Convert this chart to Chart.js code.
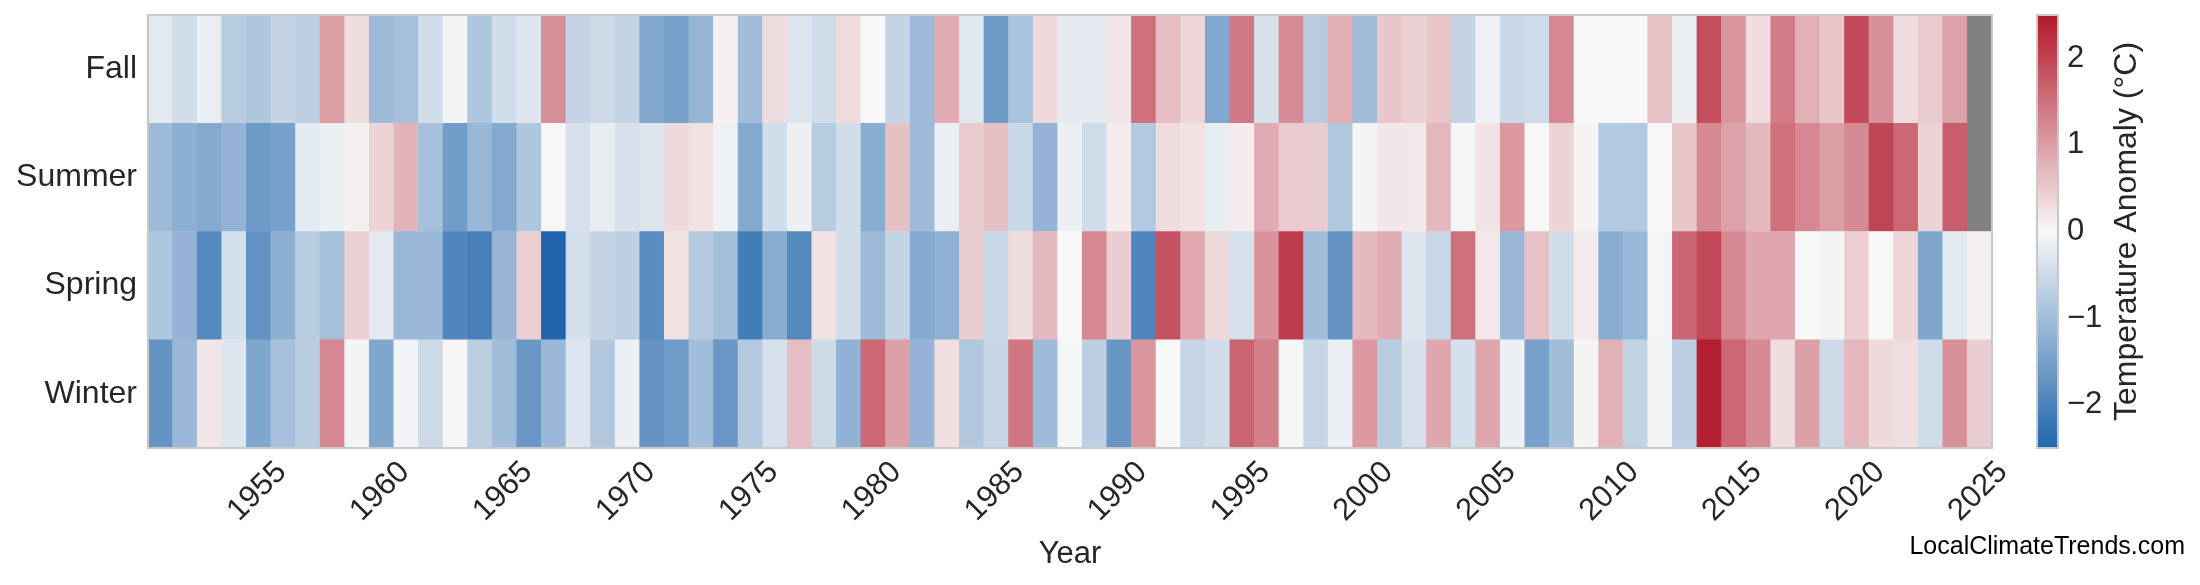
<!DOCTYPE html>
<html>
<head>
<meta charset="utf-8">
<script src="https://cdn.jsdelivr.net/npm/chart.js@4.4.1/dist/chart.umd.min.js"></script>
<style>
  html, body { margin: 0; padding: 0; background: #fff; }
  #wrap { position: relative; width: 2200px; height: 585px; }
</style>
</head>
<body>
<div id="wrap"><canvas id="heatmap" width="2200" height="585"></canvas></div>
<script>
// seasonal temperature anomalies (°C), one value per year, null = no data yet
const years = [1951, 1952, 1953, 1954, 1955, 1956, 1957, 1958, 1959, 1960,
  1961, 1962, 1963, 1964, 1965, 1966, 1967, 1968, 1969, 1970,
  1971, 1972, 1973, 1974, 1975, 1976, 1977, 1978, 1979, 1980,
  1981, 1982, 1983, 1984, 1985, 1986, 1987, 1988, 1989, 1990,
  1991, 1992, 1993, 1994, 1995, 1996, 1997, 1998, 1999, 2000,
  2001, 2002, 2003, 2004, 2005, 2006, 2007, 2008, 2009, 2010,
  2011, 2012, 2013, 2014, 2015, 2016, 2017, 2018, 2019, 2020,
  2021, 2022, 2023, 2024, 2025];

const fall = [-0.25, -0.45, -0.15, -0.75, -0.85, -0.6, -0.7, 1.0, 0.3, -1.05,
  -0.95, -0.45, -0.05, -0.85, -0.45, -0.3, 1.15, -0.6, -0.5, -0.6,
  -1.38, -1.5, -1.12, 0.08, -1.0, 0.3, -0.32, -0.47, 0.3, 0.0,
  -0.6, -1.05, 0.85, -0.28, -1.6, -0.9, 0.32, -0.22, -0.2, 0.2,
  1.5, 0.65, 0.38, -1.38, 1.42, -0.4, 1.2, -0.75, 0.82, -1.0,
  0.55, 0.45, 0.55, -0.6, -0.1, -0.52, -0.48, 1.25, 0.0, 0.0,
  0.0, 0.6, -0.12, 1.9, 1.1, 0.3, 1.38, 0.78, 0.55, 1.95,
  1.15, 0.3, 0.5, 0.95, null];

const summer = [-1.05, -1.25, -1.35, -1.15, -1.6, -1.5, -0.25, -0.12, 0.08, 0.4,
  0.75, -0.95, -1.55, -1.1, -1.35, -0.85, 0.0, -0.4, -0.17, -0.38,
  -0.3, 0.33, 0.25, -0.1, -1.35, -0.45, -0.12, -0.75, -0.45, -1.28,
  0.62, -1.05, -0.15, 0.5, 0.62, -0.52, -1.15, -0.12, -0.48, 0.12,
  -0.8, 0.3, 0.23, -0.17, 0.12, 0.85, 0.5, 0.5, -0.82, -0.05,
  0.18, 0.17, 0.72, -0.02, 0.22, 1.05, 0.0, 0.4, 0.05, -0.78,
  -0.8, 0.0, 0.55, 1.22, 0.95, 0.7, 1.5, 1.25, 1.0, 1.22,
  2.0, 1.6, 0.42, 1.72, null];

const spring = [-0.85, -1.15, -1.9, -0.42, -1.75, -1.25, -0.75, -0.95, 0.45, -0.25,
  -1.1, -1.1, -1.95, -2.05, -1.12, 0.45, -2.5, -0.43, -0.6, -0.68,
  -1.85, 0.25, -0.77, -0.97, -2.1, -1.28, -1.9, 0.25, -0.45, -1.05,
  -0.62, -1.32, -1.2, 0.47, -0.55, 0.3, 0.7, 0.0, 1.25, 0.47,
  -1.95, 1.85, 0.88, 0.35, -0.4, 1.12, 2.1, -1.0, -1.7, 0.68,
  0.85, -0.3, -0.55, 1.5, 0.17, -1.1, 0.6, -0.45, 0.15, -1.28,
  -1.1, -0.03, 1.62, 1.95, 1.22, 0.9, 0.9, 0.0, -0.06, 0.45,
  0.0, 0.38, -1.4, -0.23, 0.08];

const winter = [-1.7, -1.1, 0.2, -0.3, -1.4, -0.95, -0.75, 1.25, -0.05, -1.4,
  -0.08, -0.5, 0.03, -0.7, -1.0, -1.65, -1.1, -0.32, -0.82, -0.13,
  -1.7, -1.58, -1.0, -1.65, -0.8, -0.4, 0.65, -0.5, -1.2, 1.6,
  0.98, -1.15, 0.27, -0.82, -0.57, 1.45, -1.05, -0.03, -0.68, -1.68,
  1.1, 0.0, -0.57, -0.47, 1.65, 1.35, -0.02, -0.57, -0.13, 1.05,
  -0.75, -0.4, 0.9, -0.42, 0.9, -0.12, -1.5, -1.0, 0.05, 0.78,
  -0.62, -0.07, -0.68, 2.42, 1.6, 1.22, 0.3, 0.98, -0.5, 0.72,
  0.33, 0.28, -0.47, 1.15, 0.47];

// top to bottom, as shown on the y axis
const seasons = ['Fall', 'Summer', 'Spring', 'Winter'];
const colorbarTicks = [-2, -1, 0, 1, 2];
const vmin = -2.5;
const vmax = 2.5;

const textColor = '#262626';
const fontFamily = '"Liberation Sans", Arial, sans-serif';
const blue = [33, 102, 172];
const mid = [247, 247, 247];
const red = [178, 24, 43];

function anomalyColor(v) {
    if (v === null) return '#808080';
    let t = (Math.max(vmin, Math.min(vmax, v)) - vmin) / (vmax - vmin);
    let a, b, f;
    if (t < 0.5) { a = blue; b = mid; f = t / 0.5; }
    else { a = mid; b = red; f = (t - 0.5) / 0.5; }
    const c = a.map((x, i) => Math.round(x + (b[i] - x) * f));
    return 'rgb(' + c.join(',') + ')';
}

// stacked from the bottom up, every cell is one unit tall
const rows = [
    { name: 'Winter', values: winter },
    { name: 'Spring', values: spring },
    { name: 'Summer', values: summer },
    { name: 'Fall', values: fall }
];

const datasets = rows.map(r => ({
    label: r.name,
    data: r.values.map(() => 1),
    backgroundColor: r.values.map(anomalyColor),
    borderWidth: 0,
    barPercentage: 1,
    categoryPercentage: 1,
    stack: 'seasons'
}));

// keep the axes from pushing the plot area around
function noPadding(scale) {
    scale.paddingTop = 0;
    scale.paddingBottom = 0;
    scale.paddingLeft = 0;
    scale.paddingRight = 0;
}

// frame, colorbar, its label and the credit line
const extras = {
    id: 'extras',
    afterDraw(chart) {
        const ctx = chart.ctx;
        const area = chart.chartArea;
        const cb = chart.scales.cbar;
        ctx.save();
        ctx.strokeStyle = '#c8c8c8';
        ctx.lineWidth = 2;
        ctx.strokeRect(area.left, area.top, area.right - area.left, area.bottom - area.top);

        const x0 = area.right + 45;
        const w = 21;
        const yTop = cb.getPixelForValue(vmax);
        const yBot = cb.getPixelForValue(vmin);
        const grad = ctx.createLinearGradient(0, yBot, 0, yTop);
        grad.addColorStop(0, anomalyColor(vmin));
        grad.addColorStop(0.5, anomalyColor(0));
        grad.addColorStop(1, anomalyColor(vmax));
        ctx.fillStyle = grad;
        ctx.fillRect(x0, yTop, w, yBot - yTop);
        ctx.strokeRect(x0, yTop, w, yBot - yTop);

        ctx.fillStyle = textColor;
        ctx.font = '32px ' + fontFamily;
        ctx.textAlign = 'center';
        ctx.textBaseline = 'middle';
        ctx.translate(2127, (yTop + yBot) / 2);
        ctx.rotate(-Math.PI / 2);
        ctx.fillText('Temperature Anomaly (°C)', 0, 0);
        ctx.restore();

        ctx.save();
        ctx.fillStyle = '#000';
        ctx.font = '25px ' + fontFamily;
        ctx.textAlign = 'right';
        ctx.textBaseline = 'alphabetic';
        ctx.fillText('LocalClimateTrends.com', 2185, 554);
        ctx.restore();
    }
};

const config = {
    type: 'bar',
    data: { labels: years, datasets: datasets },
    options: {
        responsive: false,
        animation: false,
        layout: { padding: { top: 15, left: 0, right: 0, bottom: 0 } },
        plugins: {
            legend: { display: false },
            tooltip: { enabled: false }
        },
        scales: {
            x: {
                type: 'category',
                stacked: true,
                grid: { display: false, drawTicks: false },
                border: { display: false },
                ticks: {
                    autoSkip: false,
                    minRotation: 45,
                    maxRotation: 45,
                    padding: 6,
                    labelOffset: 23,
                    color: textColor,
                    font: { size: 31, family: fontFamily },
                    callback: function(value, index) {
                        return years[index] % 5 === 0 ? String(years[index]) : null;
                    }
                },
                title: {
                    display: true,
                    text: 'Year',
                    color: textColor,
                    font: { size: 31, family: fontFamily },
                    padding: { top: 0, bottom: 12 }
                },
                afterFit: function(scale) { noPadding(scale); scale.height = 137; }
            },
            y: {
                type: 'linear',
                stacked: true,
                position: 'left',
                min: 0,
                max: 4,
                grid: { display: false, drawTicks: false },
                border: { display: false },
                afterBuildTicks: function(scale) {
                    scale.ticks = [0.5, 1.5, 2.5, 3.5].map(v => ({ value: v }));
                },
                ticks: {
                    padding: 11,
                    color: textColor,
                    font: { size: 32, family: fontFamily },
                    callback: function(value) {
                        return seasons[3 - Math.floor(value)];
                    }
                },
                afterFit: function(scale) { noPadding(scale); scale.width = 148; }
            },
            cbar: {
                type: 'linear',
                position: 'right',
                min: vmin,
                max: vmax,
                grid: { display: false, drawTicks: false },
                border: { display: false },
                afterBuildTicks: function(scale) {
                    scale.ticks = colorbarTicks.map(v => ({ value: v }));
                },
                ticks: {
                    padding: 75,
                    color: textColor,
                    font: { size: 31, family: fontFamily },
                    callback: function(value) {
                        return value < 0 ? '\u2212' + Math.abs(value) : String(value);
                    }
                },
                afterFit: function(scale) { noPadding(scale); scale.width = 208; }
            }
        }
    },
    plugins: [extras]
};

const heatChart = new Chart(document.getElementById('heatmap'), config);
</script>
</body>
</html>
